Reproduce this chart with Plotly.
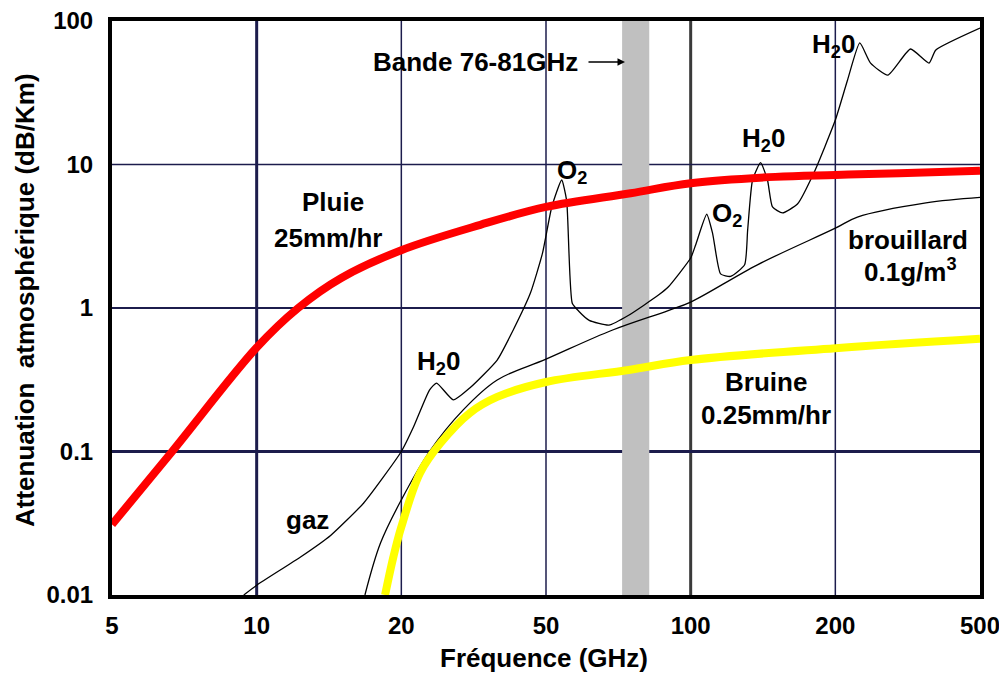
import numpy as np
import plotly.graph_objects as go

# ---------------- data ----------------
x_ticks = [5, 10, 20, 50, 100, 200, 500]          # GHz, equally spaced on the chart
x_ticklabels = ["5", "10", "20", "50", "100", "200", "500"]
y_ticks = [0.01, 0.1, 1, 10, 100]
y_ticklabels = ["0.01", "0.1", "1", "10", "100"]

# Pluie 25 mm/hr (red)
rain_f = [5, 6.67, 10, 12.2, 15, 20, 33, 50, 75, 100, 150, 200, 300, 500]
rain_v = [0.031, 0.1, 0.53, 1.0, 1.62, 2.53, 3.8, 5.06, 6.3, 7.4, 8.2, 8.45, 8.7, 9.05]

# Bruine 0.25 mm/hr (yellow)
drizzle_f = [18.5, 19.25, 20, 22.5, 25.6, 30.9, 36.7, 50, 74.3, 100, 200, 500]
drizzle_v = [0.01, 0.0184, 0.0298, 0.0706, 0.114, 0.186, 0.24, 0.305, 0.37, 0.434, 0.525, 0.61]

# Brouillard 0.1 g/m3 (thin black)
fog_f = [16.8, 18.1, 20, 23.9, 29.6, 36.7, 50, 68.6, 89.8, 100, 137.7, 200, 230, 355, 500]
fog_v = [0.01, 0.023, 0.046, 0.1, 0.195, 0.315, 0.44, 0.70, 0.96, 1.1, 2.0, 3.6, 4.3, 5.4, 5.9]

# Gaz (thin black, absorption lines)
gas_f = [9.4, 10, 12.34, 14.25, 16.7, 20, 21.6, 23.9, 25.0, 27.8, 30.9, 36.7, 40.6, 45.3,
         48.9, 51.4, 53.9, 55.2, 56.7, 58.5, 61.5, 67.6, 74.3, 85.7, 89.8, 100, 102.4,
         108, 111.1, 115.4, 121.1, 129.5, 131.4, 134.5, 139.8, 144.5, 148, 155.3, 166.8,
         180.9, 200, 216.1, 233.5, 250, 279, 322, 362, 378, 500]
gas_v = [0.01, 0.0117, 0.0184, 0.026, 0.0438, 0.1, 0.148, 0.268, 0.30, 0.229, 0.278, 0.434, 0.70, 1.27,
         2.41, 5.06, 7.8, 5.6, 1.08, 0.95, 0.82, 0.76, 0.89, 1.23, 1.4, 2.23, 2.75,
         4.5, 3.3, 1.73, 1.66, 2.0, 3.5, 7.8, 10.3, 7.8, 5.06, 4.6, 5.3,
         8.9, 20.4, 38.8, 70.3, 50.9, 42, 63.8, 50.9, 62.8, 89.3]

band_f = [72, 82]   # grey band drawn for "Bande 76-81GHz"


# chart's frequency scale: 1-2-5 ticks equally spaced (piecewise log)
def xpos(f):
    return np.interp(np.log10(np.asarray(f, dtype=float)), np.log10(x_ticks),
                     np.arange(len(x_ticks)))


FONT = "Liberation Sans, Arial, sans-serif"
NAVY = "#1c1c4c"
LBL = 26

fig = go.Figure()
fig.add_trace(go.Scatter(x=xpos(gas_f), y=gas_v, mode="lines",
                         line=dict(color="black", width=1.3, shape="spline", smoothing=0.5),
                         hoverinfo="skip"))
fig.add_trace(go.Scatter(x=xpos(fog_f), y=fog_v, mode="lines",
                         line=dict(color="black", width=1.3, shape="spline"), hoverinfo="skip"))
fig.add_trace(go.Scatter(x=xpos(rain_f), y=rain_v, mode="lines",
                         line=dict(color="#ff0000", width=8, shape="spline"), hoverinfo="skip"))
fig.add_trace(go.Scatter(x=xpos(drizzle_f), y=drizzle_v, mode="lines",
                         line=dict(color="#ffff00", width=8, shape="spline"), hoverinfo="skip"))

shapes = []
# vertical grid lines
v_w = {10: 3, 20: 1.5, 50: 1.5, 100: 3, 200: 1.5}
v_c = {10: NAVY, 20: NAVY, 50: NAVY, 100: "#3a3a3a", 200: NAVY}
for f in x_ticks[1:-1]:
    xp = float(xpos(f))
    shapes.append(dict(type="line", xref="x", yref="paper", x0=xp, x1=xp, y0=0, y1=1,
                       line=dict(color=v_c[f], width=v_w[f]), layer="below"))
# horizontal grid lines
h_w = {0.1: 3, 1: 2, 10: 1.5}
for v in y_ticks[1:-1]:
    shapes.append(dict(type="line", xref="paper", yref="y", x0=0, x1=1, y0=v, y1=v,
                       line=dict(color=NAVY, width=h_w[v]), layer="below"))
# grey band
shapes.append(dict(type="rect", xref="x", yref="paper",
                   x0=float(xpos(band_f[0])), x1=float(xpos(band_f[1])), y0=0, y1=1,
                   fillcolor="#c0c0c0", line=dict(width=0), layer="below"))

ann = []


def label(text, px, py, size=LBL, angle=0):
    ann.append(dict(text=text, xref="paper", yref="paper",
                    x=(px - 112) / 868, y=(595 - py) / 574, textangle=angle,
                    xanchor="center", yanchor="middle", showarrow=False,
                    font=dict(family=FONT, size=size, color="black", weight="bold")))


label("Bande 76-81GHz", 475, 62)
label("Pluie", 333, 202)
label("25mm/hr", 328, 238)
label("O<sub>2</sub>", 572, 172)
label("H<sub>2</sub>0", 438, 362)
label("O<sub>2</sub>", 727, 214)
label("H<sub>2</sub>0", 763, 139)
label("H<sub>2</sub>0", 833, 46)
label("brouillard", 908, 240)
label("0.1g/m<sup>3</sup>", 910, 270)
label("Bruine", 766, 382)
label("0.25mm/hr", 766, 415)
label("gaz", 307, 520)
label("Fréquence (GHz)", 544, 658)
label("Attenuation  atmosphérique (dB/Km)", 25, 300, angle=-90)

# arrow to the band
ann.append(dict(text="", xref="x", yref="paper", x=float(xpos(band_f[0])) + 0.02,
                y=(595 - 62) / 574, axref="pixel", ayref="pixel", ax=-38, ay=0,
                showarrow=True, arrowhead=2, arrowsize=1, arrowwidth=1.5, arrowcolor="black"))

# the page adds an 8 px body margin: figure is sized/offset so the plot area lands where
# the reference has it (x 112..980, y 21..595 in the window)
fig.update_layout(
    width=999, height=667,
    margin=dict(l=104, r=27, t=13, b=80, autoexpand=False),
    paper_bgcolor="white", plot_bgcolor="white",
    showlegend=False,
    shapes=shapes, annotations=ann,
    xaxis=dict(range=[0, len(x_ticks) - 1], tickmode="array",
               tickvals=list(range(len(x_ticks))), ticktext=x_ticklabels,
               showgrid=False, zeroline=False, showline=True, mirror=True,
               linecolor="black", linewidth=4, ticks="", automargin=False,
               ticklabeloverflow="allow", ticklabelstandoff=6,
               tickfont=dict(family=FONT, size=24, color="black", weight="bold")),
    yaxis=dict(type="log", range=[-2, 2], tickmode="array",
               tickvals=y_ticks, ticktext=y_ticklabels,
               showgrid=False, zeroline=False, showline=True, mirror=True,
               linecolor="black", linewidth=4, ticks="", automargin=False,
               ticklabeloverflow="allow", ticklabelstandoff=10,
               tickfont=dict(family=FONT, size=24, color="black", weight="bold")),
)

fig.write_html("out.html")
